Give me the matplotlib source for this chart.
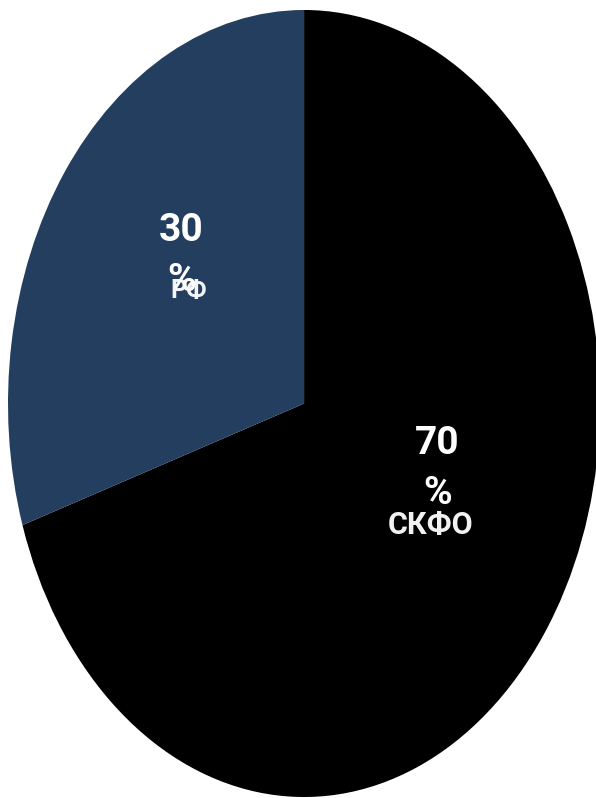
import matplotlib
matplotlib.use("Agg")
import matplotlib.pyplot as plt

categories = ["СКФО", "РФ"]
values = [70, 30]
pct_labels = ["70\n%", "30\n%"]
colors = ["#000000", "#233E5F"]

plt.rcParams['font.family'] = ['Roboto', 'DejaVu Sans']

fig = plt.figure(figsize=(5.96, 7.98), dpi=100)
ax = fig.add_axes([0, 0, 1, 1])
ax.pie(values, colors=colors, startangle=90, counterclock=False,
       radius=1.0, center=(0, 0), frame=False,
       wedgeprops=dict(linewidth=0))
ax.set_aspect('auto')
ax.set_xlim(-1.027, 0.986)
ax.set_ylim(-1.0025, 1.0254)
ax.axis('off')

# value labels and category labels
pct_pos = [(0.45, -0.165), (-0.415, 0.375)]
cat_pos = [(0.426, -0.31), (-0.39, 0.285)]
cat_size = [22, 18]
for i in range(len(values)):
    ax.text(pct_pos[i][0], pct_pos[i][1], pct_labels[i], color='white',
            fontsize=28, fontweight='bold', ha='center', va='center',
            linespacing=1.45)
    ax.text(cat_pos[i][0], cat_pos[i][1], categories[i], color='white',
            fontsize=cat_size[i], fontweight='bold', ha='center', va='center',
            alpha=0.95)

fig.savefig("out.png", dpi=100)
